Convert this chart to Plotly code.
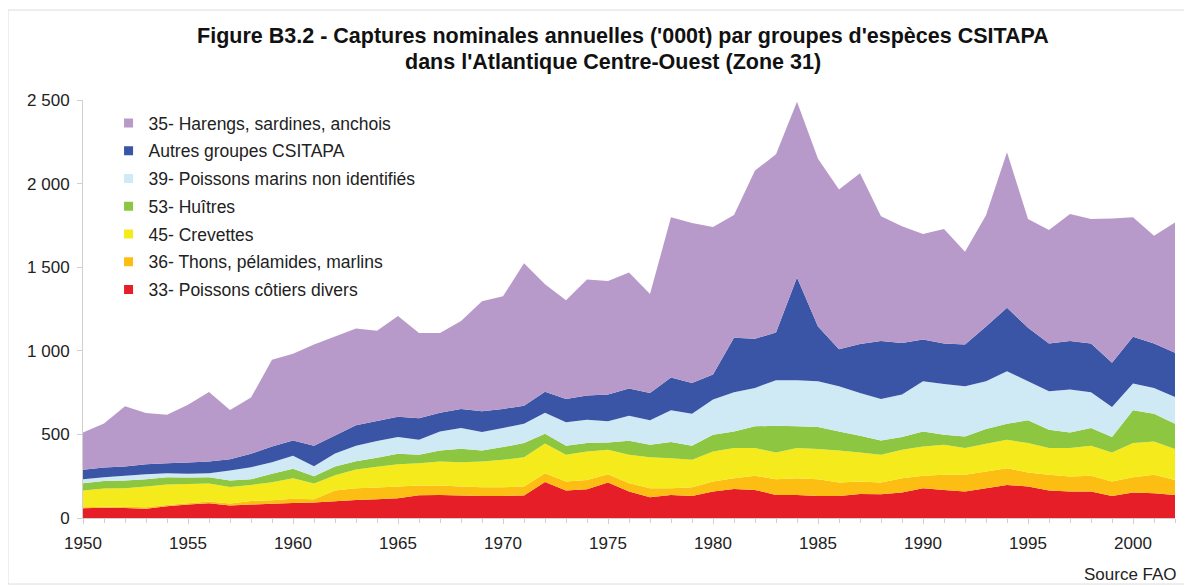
import plotly.graph_objects as go

years = list(range(1950, 2003))

s33_cotiers = [58, 62, 60, 56, 70, 80, 88, 75, 80, 85, 90, 92, 100, 108, 112, 118, 136, 138, 134, 132,
               132, 134, 216, 164, 172, 212, 158, 124, 138, 132, 158, 174, 168, 138, 138, 132, 132, 144, 142, 152,
               178, 168, 158, 178, 198, 188, 164, 158, 158, 132, 152, 148, 138]
s36_thons = [6, 6, 8, 8, 8, 8, 10, 11, 22, 21, 25, 20, 65, 70, 70, 70, 58, 56, 54, 52,
             52, 54, 52, 54, 56, 50, 50, 54, 40, 52, 60, 64, 84, 94, 100, 100, 80, 74, 70, 86,
             74, 90, 100, 100, 100, 84, 94, 90, 94, 86, 92, 110, 90]
s45_crevettes = [100, 108, 110, 124, 122, 116, 108, 100, 96, 108, 123, 94, 91, 112, 124, 134, 134, 144, 146, 154,
                 164, 176, 178, 160, 170, 146, 170, 186, 180, 164, 180, 180, 166, 160, 180, 180, 192, 174, 166, 170,
                 176, 180, 160, 166, 170, 176, 160, 170, 180, 174, 204, 200, 184]
s53_huitres = [44, 46, 46, 44, 44, 38, 38, 38, 34, 50, 56, 44, 52, 50, 54, 62, 50, 66, 80, 66,
               76, 84, 58, 54, 50, 44, 84, 74, 96, 84, 100, 100, 130, 160, 130, 132, 114, 100, 86, 76,
               90, 60, 70, 88, 96, 136, 110, 94, 106, 92, 196, 166, 152]
s39_non_ident = [24, 22, 28, 30, 24, 22, 24, 60, 72, 70, 78, 60, 78, 92, 100, 100, 90, 114, 124, 110,
                 114, 116, 126, 140, 140, 126, 150, 146, 190, 192, 210, 234, 230, 272, 276, 274, 270, 256, 248, 254,
                 300, 304, 300, 286, 314, 234, 230, 256, 214, 180, 160, 154, 160]
autres = [56, 58, 56, 60, 60, 68, 70, 68, 80, 94, 92, 122, 108, 122, 120, 122, 128, 112, 114, 124,
          114, 108, 125, 140, 144, 160, 163, 164, 196, 184, 150, 326, 294, 286, 614, 327, 222, 292, 346, 308,
          250, 242, 250, 327, 380, 320, 286, 290, 292, 264, 280, 266, 264]
s35_harengs = [224, 263, 360, 306, 290, 346, 416, 294, 336, 518, 518, 606, 592, 580, 540, 602, 510, 476, 526, 658,
               674, 852, 643, 590, 694, 680, 693, 592, 958, 957, 882, 734, 1006, 1065, 1052, 1003, 955, 1022, 747, 699,
               630, 684, 554, 665, 930, 650, 678, 760, 744, 864, 714, 644, 780]

series = [
    ("33- Poissons côtiers divers", s33_cotiers, "#E61E28"),
    ("36- Thons, pélamides, marlins", s36_thons, "#FDBE14"),
    ("45- Crevettes", s45_crevettes, "#F4EA1C"),
    ("53- Huîtres", s53_huitres, "#8DC641"),
    ("39- Poissons marins non identifiés", s39_non_ident, "#CFE9F5"),
    ("Autres groupes CSITAPA", autres, "#3A54A6"),
    ("35- Harengs, sardines, anchois", s35_harengs, "#B79AC9"),
]

title_line1 = "Figure B3.2 - Captures nominales annuelles ('000t) par groupes d'espèces CSITAPA"
title_line2 = "dans l'Atlantique Centre-Ouest (Zone 31)"

fig = go.Figure()
for name, vals, col in series:
    fig.add_trace(go.Scatter(
        x=years, y=vals, name=name, stackgroup="one", mode="none",
        fillcolor=col, line=dict(width=0), showlegend=False,
        hovertemplate="%{x}: %{y}<extra>" + name + "</extra>",
    ))

# legend entries (top to bottom as in the reference)
for name, vals, col in reversed(series):
    fig.add_trace(go.Scatter(
        x=[None], y=[None], name=name, mode="markers",
        marker=dict(symbol="square", size=9, color=col),
        legendgroup=name, showlegend=True,
    ))

fig.update_layout(
    width=1184, height=578,
    margin=dict(l=75, r=17, t=92, b=68),
    paper_bgcolor="white", plot_bgcolor="white",
    separators=", ",
    font=dict(family="Liberation Sans, Arial, sans-serif", size=17, color="#222222"),
    title=dict(
        text="<b>" + title_line1 + "</b>",
        x=0.5194, xanchor="center", y=0.9524, yanchor="middle",
        font=dict(size=21.5, color="#111111"),
    ),
    legend=dict(
        x=0.0234, y=0.988, xanchor="left", yanchor="top",
        bgcolor="rgba(0,0,0,0)", font=dict(size=17.5, color="#222222"),
        traceorder="grouped", tracegroupgap=2, itemwidth=30,
    ),
    xaxis=dict(
        range=[1950, 2002], dtick=5, tick0=1950, showgrid=False, zeroline=False,
        showline=True, linecolor="#d0d0d0", linewidth=1,
        ticks="outside", ticklen=5, tickcolor="#d0d0d0", ticklabelstandoff=5,
        minor=dict(dtick=1, ticks="outside", ticklen=4, tickcolor="#d0d0d0"),
        tickfont=dict(size=17, color="#222222"),
    ),
    yaxis=dict(
        range=[0, 2500], dtick=500, tickformat=",d", showgrid=False, zeroline=False,
        showline=True, linecolor="#d0d0d0", linewidth=1,
        ticks="outside", ticklen=5, tickcolor="#d0d0d0", ticklabelstandoff=4,
        tickfont=dict(size=17, color="#222222"),
    ),
    annotations=[
        dict(
            text="<b>" + title_line2 + "</b>", xref="paper", yref="paper", x=0.4853, y=1.0921,
            xanchor="center", yanchor="middle", showarrow=False,
            font=dict(size=21.5, color="#111111"),
        ),
        dict(
            text="Source FAO", xref="paper", yref="paper", x=1.0037, y=-0.136,
            xanchor="right", yanchor="middle", showarrow=False,
            font=dict(size=17, color="#222222"),
        ),
    ],
    shapes=[dict(
        type="rect", xref="paper", yref="paper",
        x0=-0.0687, x1=1.0146, y0=-0.158, y1=1.2153,
        line=dict(color="#dddddd", width=1), fillcolor="rgba(0,0,0,0)", layer="below",
    )],
)

fig.write_html("out.html")
